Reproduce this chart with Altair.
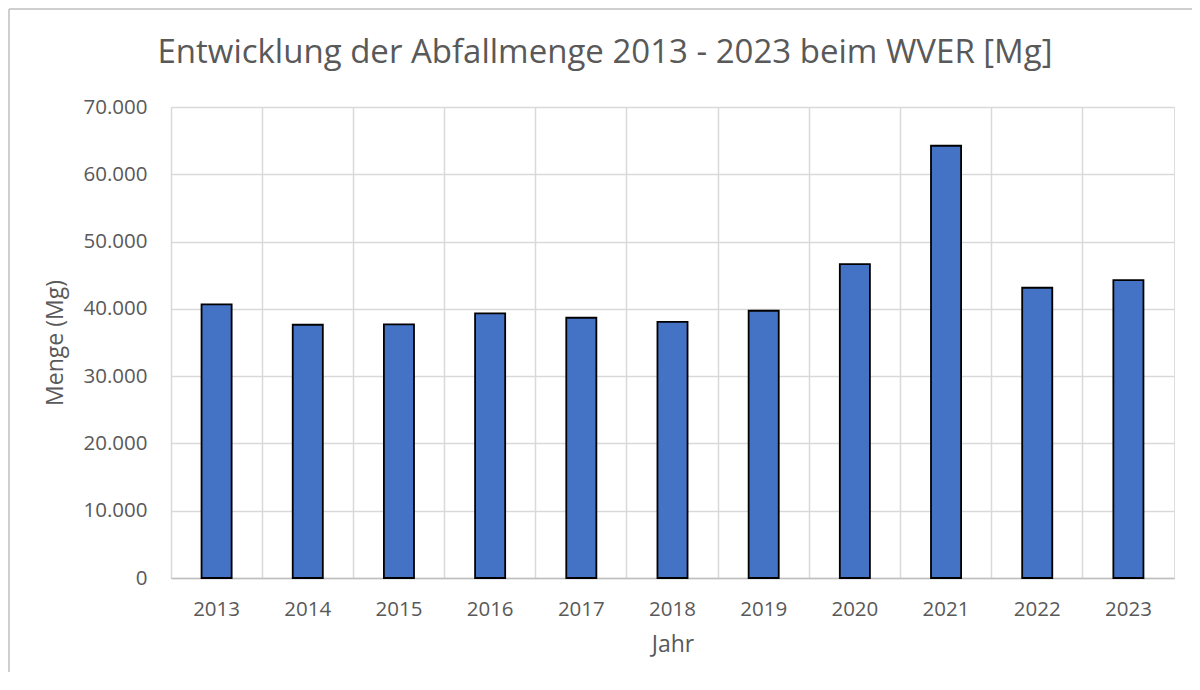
import altair as alt
import pandas as pd

years = ["2013", "2014", "2015", "2016", "2017", "2018", "2019", "2020", "2021", "2022", "2023"]
mengen = [40670, 37640, 37680, 39330, 38680, 38080, 39720, 46660, 64240, 43140, 44280]
y_ticks = [0, 10000, 20000, 30000, 40000, 50000, 60000, 70000]
title_text = ["Entwicklung der Abfallmenge 2013 - 2023 beim WVER [Mg]"]

df = pd.DataFrame({"Jahr": years, "Menge": mengen})

FONT = "Open Sans"
TXT = "#595959"

bars = alt.Chart(df).mark_bar(
    width=alt.RelativeBandSize(0.33),
    color="#4472C4",
    stroke="#000000",
    strokeWidth=1.8,
).encode(
    x=alt.X("Jahr:N", sort=years,
            scale=alt.Scale(paddingInner=0, paddingOuter=0),
            axis=alt.Axis(title="Jahr", labelAngle=0, grid=True, bandPosition=0,
                          gridColor="#d9d9d9", gridWidth=1.5, ticks=False,
                          domainColor="#bfbfbf", domainWidth=1.5,
                          labelFont=FONT, labelFontSize=20.5, labelColor=TXT, labelPadding=21,
                          titleFont=FONT, titleFontSize=23, titleColor=TXT, titleFontWeight="normal",
                          titlePadding=14)),
    y=alt.Y("Menge:Q",
            scale=alt.Scale(domain=[0, 70000], nice=False),
            axis=alt.Axis(title="Menge (Mg)", values=y_ticks, grid=True,
                          gridColor="#d9d9d9", gridWidth=1.5, ticks=False, domain=False,
                          labelExpr="replace(format(datum.value, ','), ',', '.')",
                          labelFont=FONT, labelFontSize=20.5, labelColor=TXT, labelPadding=24,
                          titleFont=FONT, titleFontSize=23, titleColor=TXT, titleFontWeight="normal",
                          titlePadding=16)),
)

title = alt.Chart(pd.DataFrame({"t": title_text})).mark_text(
    font=FONT, fontSize=33, color=TXT, align="center", baseline="alphabetic"
).encode(text="t:N", x=alt.value(434), y=alt.value(-44))

frame_left = alt.Chart(pd.DataFrame({"t": title_text})).mark_rule(color="#bfbfbf", strokeWidth=1.5).encode(
    x=alt.value(-162), y=alt.value(-98), y2=alt.value(800)
)
frame_top = alt.Chart(pd.DataFrame({"t": title_text})).mark_rule(color="#bfbfbf", strokeWidth=1.5).encode(
    x=alt.value(-162), x2=alt.value(1300), y=alt.value(-98)
)

chart = alt.layer(frame_left, frame_top, title, bars).properties(
    width=1003,
    height=471,
    padding={"left": 163, "top": 99, "right": 18, "bottom": 94},
    autosize=alt.AutoSizeParams(type="none"),
).configure_view(stroke="#d9d9d9", strokeWidth=1.5).configure(background="white")

chart.save("out.html", embed_options={"renderer": "svg", "actions": False})
